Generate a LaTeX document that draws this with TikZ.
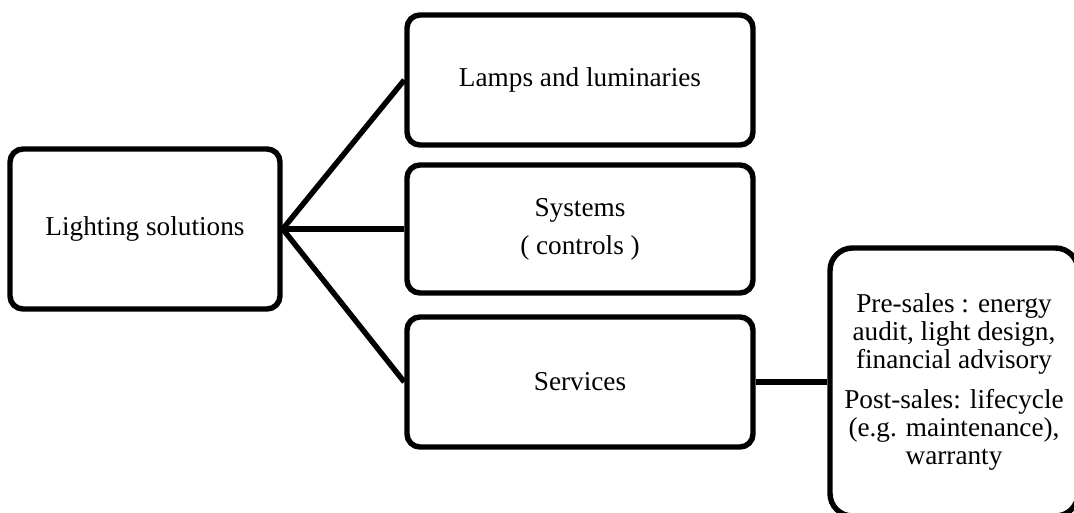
\documentclass[tikz,border=0pt]{standalone}
\usepackage{fontspec}
\setmainfont{Liberation Serif}
\usepackage{tikz}
\usetikzlibrary{arrows,positioning}

\begin{document}
\begin{tikzpicture}
      \useasboundingbox (0,0) rectangle (21.48,-10.24);
      \begin{scope}[line width=3.1pt,
        node distance=2cm,on grid,
        block/.style={rectangle,draw,rounded corners=0.26cm,font=\fontsize{15.5}{16}\selectfont,
          align=center,minimum width=6.92cm,minimum height=2.6cm,inner sep=0pt}]

        \node[block, minimum width=5.4cm, minimum height=3.2cm] (light_sol) at (2.9,-4.58) {Lighting solutions};
        \node[block, right=8.7cm of light_sol, minimum height=2.56cm] (systems) {Systems\\[5.5pt]( controls )};
        \node[block, above=2.98cm of systems] (lamps) {Lamps and luminaries};
        \node[block, below=3.06cm of systems] (services) {Services};
        % sales box runs off the page on the right and bottom
        \node[block, right=7.48cm of services, minimum width=4.96cm, minimum height=5.36cm,
          rounded corners=0.45cm] (sales)
          {Pre-sales : energy\\ audit, light design,\\ financial advisory\\[7pt]
           Post-sales: lifecycle\\ (e.g. maintenance),\\ warranty};
        \draw[-] (light_sol.east) -- (lamps.west);
        \draw[-] (light_sol.east) -- (systems.west);
        \draw[-] (light_sol.east) -- (services.west);
        \draw[-] (services) -- (sales);
      \end{scope}

\end{tikzpicture}
\end{document}
